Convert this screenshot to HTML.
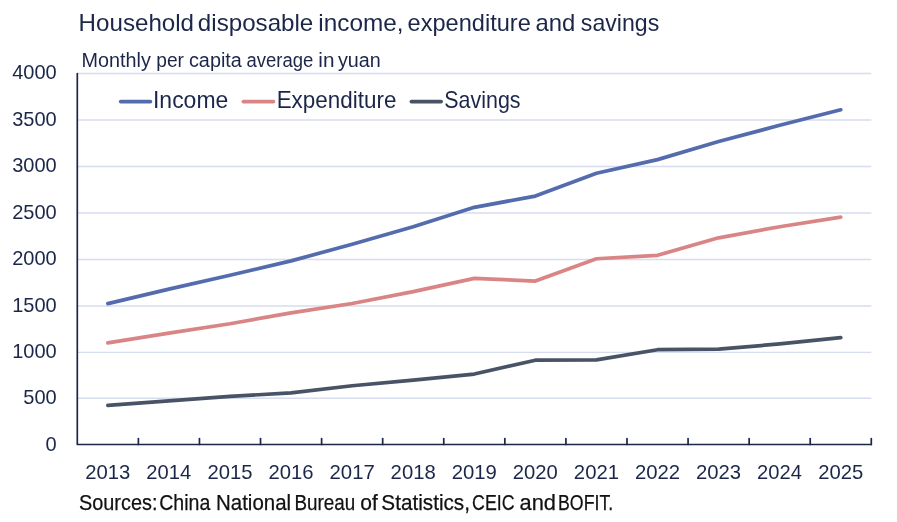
<!DOCTYPE html>
<html lang="en"><head><meta charset="utf-8"><title>Household disposable income, expenditure and savings</title>
<style>html,body{margin:0;padding:0;background:#fff;}body{width:897px;height:522px;overflow:hidden;}svg{display:block;font-family:"Liberation Sans",sans-serif;}</style></head><body>
<svg width="897" height="522" viewBox="0 0 897 522">
<rect width="897" height="522" fill="#ffffff"/>
<text y="30.90" font-size="24" fill="#1b2649"><tspan x="78.62" textLength="115.43" lengthAdjust="spacingAndGlyphs">Household</tspan> <tspan x="197.89" textLength="115.38" lengthAdjust="spacingAndGlyphs">disposable</tspan> <tspan x="318.37" textLength="85.21" lengthAdjust="spacingAndGlyphs">income,</tspan> <tspan x="407.61" textLength="123.23" lengthAdjust="spacingAndGlyphs">expenditure</tspan> <tspan x="535.40" textLength="39.84" lengthAdjust="spacingAndGlyphs">and</tspan> <tspan x="580.85" textLength="78.37" lengthAdjust="spacingAndGlyphs">savings</tspan></text>
<text y="66.60" font-size="19.6" fill="#1b2649"><tspan x="81.58" textLength="69.27" lengthAdjust="spacingAndGlyphs">Monthly</tspan> <tspan x="156.28" textLength="27.66" lengthAdjust="spacingAndGlyphs">per</tspan> <tspan x="188.97" textLength="52.84" lengthAdjust="spacingAndGlyphs">capita</tspan> <tspan x="246.52" textLength="66.89" lengthAdjust="spacingAndGlyphs">average</tspan> <tspan x="318.31" textLength="16.14" lengthAdjust="spacingAndGlyphs">in</tspan> <tspan x="337.94" textLength="42.85" lengthAdjust="spacingAndGlyphs">yuan</tspan></text>
<line x1="77.30" x2="871.30" y1="398.30" y2="398.30" stroke="#d7dcee" stroke-width="1.4"/>
<line x1="77.30" x2="871.30" y1="352.40" y2="352.40" stroke="#d7dcee" stroke-width="1.4"/>
<line x1="77.30" x2="871.30" y1="306.00" y2="306.00" stroke="#d7dcee" stroke-width="1.4"/>
<line x1="77.30" x2="871.30" y1="259.50" y2="259.50" stroke="#d7dcee" stroke-width="1.4"/>
<line x1="77.30" x2="871.30" y1="213.00" y2="213.00" stroke="#d7dcee" stroke-width="1.4"/>
<line x1="77.30" x2="871.30" y1="166.50" y2="166.50" stroke="#d7dcee" stroke-width="1.4"/>
<line x1="77.30" x2="871.30" y1="120.00" y2="120.00" stroke="#d7dcee" stroke-width="1.4"/>
<line x1="77.30" x2="871.30" y1="73.50" y2="73.50" stroke="#d7dcee" stroke-width="1.4"/>
<text x="45.60" y="450.50" font-size="20.6" fill="#1b2649" textLength="11.14" lengthAdjust="spacingAndGlyphs">0</text>
<text x="23.32" y="404.20" font-size="20.6" fill="#1b2649" textLength="33.42" lengthAdjust="spacingAndGlyphs">500</text>
<text x="12.19" y="358.30" font-size="20.6" fill="#1b2649" textLength="44.55" lengthAdjust="spacingAndGlyphs">1000</text>
<text x="12.19" y="311.90" font-size="20.6" fill="#1b2649" textLength="44.55" lengthAdjust="spacingAndGlyphs">1500</text>
<text x="12.19" y="265.40" font-size="20.6" fill="#1b2649" textLength="44.55" lengthAdjust="spacingAndGlyphs">2000</text>
<text x="12.19" y="218.90" font-size="20.6" fill="#1b2649" textLength="44.55" lengthAdjust="spacingAndGlyphs">2500</text>
<text x="12.19" y="172.40" font-size="20.6" fill="#1b2649" textLength="44.55" lengthAdjust="spacingAndGlyphs">3000</text>
<text x="12.19" y="125.90" font-size="20.6" fill="#1b2649" textLength="44.55" lengthAdjust="spacingAndGlyphs">3500</text>
<text x="12.19" y="79.40" font-size="20.6" fill="#1b2649" textLength="44.55" lengthAdjust="spacingAndGlyphs">4000</text>
<polyline points="107.84,303.58 168.92,289.17 229.99,275.31 291.07,260.89 352.15,244.25 413.22,226.76 474.30,207.33 535.38,196.07 596.45,173.29 657.53,159.62 718.61,141.58 779.68,125.30 840.76,109.77" fill="none" stroke="#546cae" stroke-width="3.7" stroke-linecap="round" stroke-linejoin="round"/>
<polyline points="107.84,342.93 168.92,333.10 229.99,323.72 291.07,312.87 352.15,303.49 413.22,291.68 474.30,278.38 535.38,281.08 596.45,258.76 657.53,255.31 718.61,237.83 779.68,226.76 840.76,217.19" fill="none" stroke="#da8585" stroke-width="3.7" stroke-linecap="round" stroke-linejoin="round"/>
<polyline points="107.84,405.34 168.92,400.80 229.99,396.37 291.07,392.88 352.15,385.72 413.22,380.12 474.30,374.06 535.38,360.20 596.45,359.84 657.53,349.71 718.61,349.15 779.68,343.96 840.76,337.55" fill="none" stroke="#485466" stroke-width="3.7" stroke-linecap="round" stroke-linejoin="round"/>
<path d="M77.30 73.50 V444.50 H871.30" fill="none" stroke="#1b2649" stroke-width="1.7" stroke-linejoin="round" stroke-linecap="round"/>
<line x1="138.38" x2="138.38" y1="438.60" y2="444.50" stroke="#1b2649" stroke-width="1.7" stroke-linecap="round"/>
<line x1="199.45" x2="199.45" y1="438.60" y2="444.50" stroke="#1b2649" stroke-width="1.7" stroke-linecap="round"/>
<line x1="260.53" x2="260.53" y1="438.60" y2="444.50" stroke="#1b2649" stroke-width="1.7" stroke-linecap="round"/>
<line x1="321.61" x2="321.61" y1="438.60" y2="444.50" stroke="#1b2649" stroke-width="1.7" stroke-linecap="round"/>
<line x1="382.68" x2="382.68" y1="438.60" y2="444.50" stroke="#1b2649" stroke-width="1.7" stroke-linecap="round"/>
<line x1="443.76" x2="443.76" y1="438.60" y2="444.50" stroke="#1b2649" stroke-width="1.7" stroke-linecap="round"/>
<line x1="504.84" x2="504.84" y1="438.60" y2="444.50" stroke="#1b2649" stroke-width="1.7" stroke-linecap="round"/>
<line x1="565.92" x2="565.92" y1="438.60" y2="444.50" stroke="#1b2649" stroke-width="1.7" stroke-linecap="round"/>
<line x1="626.99" x2="626.99" y1="438.60" y2="444.50" stroke="#1b2649" stroke-width="1.7" stroke-linecap="round"/>
<line x1="688.07" x2="688.07" y1="438.60" y2="444.50" stroke="#1b2649" stroke-width="1.7" stroke-linecap="round"/>
<line x1="749.15" x2="749.15" y1="438.60" y2="444.50" stroke="#1b2649" stroke-width="1.7" stroke-linecap="round"/>
<line x1="810.22" x2="810.22" y1="438.60" y2="444.50" stroke="#1b2649" stroke-width="1.7" stroke-linecap="round"/>
<line x1="871.30" x2="871.30" y1="438.60" y2="444.50" stroke="#1b2649" stroke-width="1.7" stroke-linecap="round"/>
<text x="85.22" y="479.20" font-size="20.4" fill="#1b2649" textLength="45.12" lengthAdjust="spacingAndGlyphs">2013</text>
<text x="146.31" y="479.20" font-size="20.4" fill="#1b2649" textLength="44.80" lengthAdjust="spacingAndGlyphs">2014</text>
<text x="207.38" y="479.20" font-size="20.4" fill="#1b2649" textLength="45.08" lengthAdjust="spacingAndGlyphs">2015</text>
<text x="268.46" y="479.20" font-size="20.4" fill="#1b2649" textLength="45.12" lengthAdjust="spacingAndGlyphs">2016</text>
<text x="329.53" y="479.20" font-size="20.4" fill="#1b2649" textLength="45.25" lengthAdjust="spacingAndGlyphs">2017</text>
<text x="390.61" y="479.20" font-size="20.4" fill="#1b2649" textLength="45.10" lengthAdjust="spacingAndGlyphs">2018</text>
<text x="451.68" y="479.20" font-size="20.4" fill="#1b2649" textLength="45.18" lengthAdjust="spacingAndGlyphs">2019</text>
<text x="512.77" y="479.20" font-size="20.4" fill="#1b2649" textLength="45.01" lengthAdjust="spacingAndGlyphs">2020</text>
<text x="573.84" y="479.20" font-size="20.4" fill="#1b2649" textLength="45.23" lengthAdjust="spacingAndGlyphs">2021</text>
<text x="634.91" y="479.20" font-size="20.4" fill="#1b2649" textLength="45.25" lengthAdjust="spacingAndGlyphs">2022</text>
<text x="695.99" y="479.20" font-size="20.4" fill="#1b2649" textLength="45.12" lengthAdjust="spacingAndGlyphs">2023</text>
<text x="757.08" y="479.20" font-size="20.4" fill="#1b2649" textLength="44.80" lengthAdjust="spacingAndGlyphs">2024</text>
<text x="818.15" y="479.20" font-size="20.4" fill="#1b2649" textLength="45.08" lengthAdjust="spacingAndGlyphs">2025</text>
<line x1="120.7" x2="150.4" y1="101.6" y2="101.6" stroke="#546cae" stroke-width="3.7" stroke-linecap="round"/>
<text x="152.99" y="108.15" font-size="23.4" fill="#1b2649" textLength="75.33" lengthAdjust="spacingAndGlyphs">Income</text>
<line x1="243.4" x2="273.4" y1="101.6" y2="101.6" stroke="#da8585" stroke-width="3.7" stroke-linecap="round"/>
<text x="276.66" y="108.15" font-size="23.4" fill="#1b2649" textLength="119.73" lengthAdjust="spacingAndGlyphs">Expenditure</text>
<line x1="411.4" x2="441.1" y1="101.6" y2="101.6" stroke="#485466" stroke-width="3.7" stroke-linecap="round"/>
<text x="444.31" y="108.15" font-size="23.4" fill="#1b2649" textLength="76.25" lengthAdjust="spacingAndGlyphs">Savings</text>
<text y="510.20" font-size="22" fill="#111111" stroke="#111111" stroke-width="0.25"><tspan x="78.98" textLength="78.53" lengthAdjust="spacingAndGlyphs">Sources:</tspan> <tspan x="159.20" textLength="51.09" lengthAdjust="spacingAndGlyphs">China</tspan> <tspan x="216.02" textLength="75.05" lengthAdjust="spacingAndGlyphs">National</tspan> <tspan x="294.46" textLength="60.70" lengthAdjust="spacingAndGlyphs">Bureau</tspan> <tspan x="360.22" textLength="17.56" lengthAdjust="spacingAndGlyphs">of</tspan> <tspan x="381.35" textLength="88.61" lengthAdjust="spacingAndGlyphs">Statistics,</tspan> <tspan x="472.10" textLength="42.38" lengthAdjust="spacingAndGlyphs">CEIC</tspan> <tspan x="519.58" textLength="36.42" lengthAdjust="spacingAndGlyphs">and</tspan> <tspan x="558.05" textLength="55.15" lengthAdjust="spacingAndGlyphs">BOFIT.</tspan></text>
</svg></body></html>
